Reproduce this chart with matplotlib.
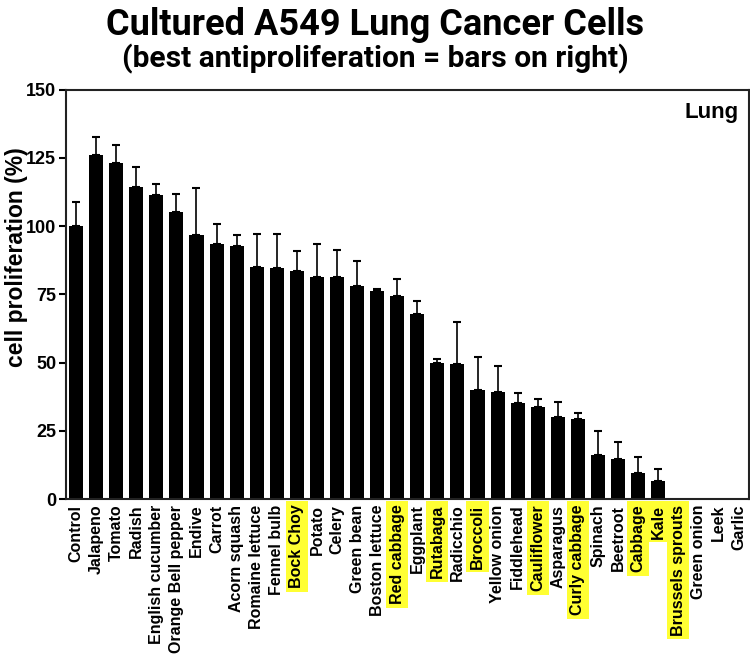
import matplotlib
matplotlib.use("Agg")
import matplotlib.pyplot as plt
import numpy as np

categories = ["Control", "Jalapeno", "Tomato", "Radish", "English cucumber",
              "Orange Bell pepper", "Endive", "Carrot", "Acorn squash",
              "Romaine lettuce", "Fennel bulb", "Bock Choy", "Potato", "Celery",
              "Green bean", "Boston lettuce", "Red cabbage", "Eggplant", "Rutabaga",
              "Radicchio", "Broccoli", "Yellow onion", "Fiddlehead", "Cauliflower",
              "Asparagus", "Curly cabbage", "Spinach", "Beetroot", "Cabbage", "Kale",
              "Brussels sprouts", "Green onion", "Leek", "Garlic"]
values = [99.9, 125.9, 123.2, 114.2, 111.5, 105.1, 96.7, 93.3, 92.7, 85.2, 84.5,
          83.7, 81.5, 81.4, 78.2, 76.4, 74.4, 67.7, 49.8, 49.4, 40.1, 39.2, 35.1,
          33.9, 30.0, 29.5, 16.1, 14.5, 9.7, 6.6, 0, 0, 0, 0]
errors = [8.9, 6.7, 6.5, 7.3, 4.0, 6.5, 17.4, 7.3, 3.9, 12.0, 12.7, 7.1, 12.0,
          9.7, 9.2, 0.7, 6.4, 4.9, 1.7, 15.3, 12.1, 9.6, 3.8, 2.8, 5.7, 2.2, 8.7,
          6.3, 5.7, 4.6, 0, 0, 0, 0]
highlighted = ["Bock Choy", "Red cabbage", "Rutabaga", "Broccoli", "Cauliflower",
               "Curly cabbage", "Cabbage", "Kale", "Brussels sprouts"]

fig = plt.figure(figsize=(7.5, 6.69), dpi=100)
ax = fig.add_axes([0.088, 0.254, 0.910, 0.612])

x = np.arange(len(categories))
ax.bar(x, values, width=0.7, color="black", zorder=2)
errs = np.array(errors)
mask = errs > 0
ax.errorbar(x[mask], np.array(values)[mask], yerr=[np.zeros(mask.sum()), errs[mask]],
            fmt="none", ecolor="black", elinewidth=1.2, capsize=3, capthick=1.5, zorder=3)

ax.set_xlim(-0.5, len(categories) - 0.5)
ax.set_ylim(0, 150)
ax.set_yticks([0, 25, 50, 75, 100, 125, 150])
ax.tick_params(axis="y", direction="out", length=5, width=1.5, labelsize=13, pad=2)
for lbl in ax.get_yticklabels():
    lbl.set_fontweight("bold")
    lbl.set_family("Liberation Sans")
ax.set_xticks(x)
ax.set_xticklabels(categories, rotation=90, fontsize=11.5, fontweight="bold",
                   family="Liberation Sans")
ax.tick_params(axis="x", length=0, pad=4)
for lbl in ax.get_xticklabels():
    if lbl.get_text() in highlighted:
        lbl.set_bbox(dict(facecolor="#ffff33", edgecolor="none", pad=2.5))
for sp in ax.spines.values():
    sp.set_linewidth(1.5)
    sp.set_color("#222222")

ax.set_ylabel("cell proliferation (%)", fontsize=16.5, fontweight="bold",
              family="Liberation Sans")
ax.yaxis.set_label_coords(-0.056, 0.59)
ax.text(0.985, 0.97, "Lung", transform=ax.transAxes, ha="right", va="top",
        fontsize=16, fontweight="bold", family="Liberation Sans")

fig.text(0.5, 0.99, "Cultured A549 Lung Cancer Cells", ha="center", va="top",
         fontsize=26, fontweight="bold", family="Roboto")
fig.text(0.5, 0.935, "(best antiproliferation = bars on right)", ha="center", va="top",
         fontsize=21.5, fontweight="bold", family="Roboto")

fig.savefig("out.png", dpi=100)
